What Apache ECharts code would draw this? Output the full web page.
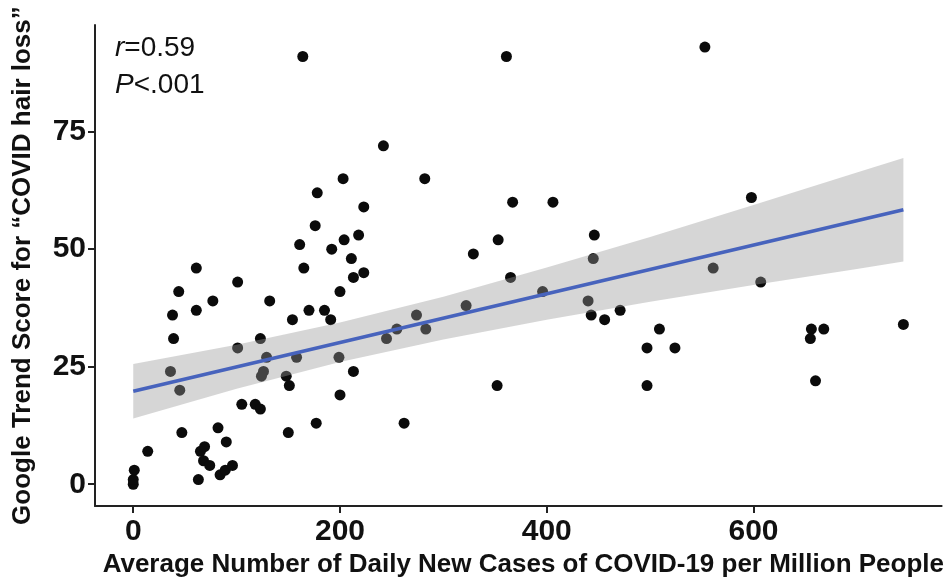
<!DOCTYPE html>
<html>
<head>
<meta charset="utf-8">
<script src="https://cdn.jsdelivr.net/npm/echarts@6/dist/echarts.min.js"></script>
<style>
html,body{margin:0;padding:0;background:#fff;}
#chart{width:947px;height:583px;}
</style>
</head>
<body>
<div id="chart"></div>
<script>
// Scatter data (cases per million, Google trend score)
const casesX = [0,0,1,14,47,36,45,39,38,44, 61,61,77,101,101,63,65,69,68,74, 82,90,84,89,96,105,118,123,123,129,
  126,124,132,148,151,150,154,158,170,165, 161,176,178,203,177,185,191,199,200,200, 192,204,211,218,213,223,223,213,245,164,
  361,242,282,367,406,329,353,446,445,365, 396,255,274,283,322,440,443,456,471,262, 352,509,497,524,497,553,598,561,607,656,
  668,655,745,660];
const trendY = [0,1,3,7,11,24,20,31,36,41, 46,37,39,43,29,1,7,8,5,4, 12,9,2,3,4,17,17,16,31,27,
  24,23,39,23,21,11,35,27,37,46, 51,55,62,65,13,37,35,27,19,41, 50,52,48,53,44,45,59,24,31,91,
  91,72,65,60,60,49,52,53,48,44, 41,33,36,33,38,39,36,35,37,13, 21,33,29,29,21,93,61,46,43,33,
  33,31,34,22];

// Fitted regression line and 95% confidence band
const fitX = [0, 745];
const fitY = [19.8, 58.4];
const bandX = [0, 100, 200, 300, 400, 500, 600, 700, 745];
const bandLo = [14.0, 20.3, 26.0, 30.8, 35.0, 38.8, 42.4, 45.8, 47.4];
const bandHi = [25.6, 29.7, 34.4, 39.9, 46.1, 52.6, 59.4, 66.3, 69.4];

// Tick labels
const xTicks = [0, 200, 400, 600];
const yTicks = [0, 25, 50, 75];

const FONT = "'Liberation Sans', Arial, Helvetica, sans-serif";

const chart = echarts.init(document.getElementById('chart'), null, {renderer: 'canvas'});

const scatterData = casesX.map((x, i) => [x, trendY[i]]);
const bandData = bandX.map((x, i) => [x, bandLo[i], bandHi[i]]);
const fitData = fitX.map((x, i) => [x, fitY[i]]);

chart.setOption({
  animation: false,
  backgroundColor: '#ffffff',
  title: {
    left: 110,
    top: 25,
    text: '{i|r}{n|=0.59}\n{i|P}{n|<.001}',
    textStyle: {
      lineHeight: 37,
      fontWeight: 'normal',
      rich: {
        i: {fontFamily: FONT, fontSize: 28, fontStyle: 'italic', fontWeight: 'normal', color: '#111', lineHeight: 37},
        n: {fontFamily: FONT, fontSize: 28, fontWeight: 'normal', color: '#111', lineHeight: 37}
      }
    }
  },
  grid: {left: 95, right: 4, top: 25, bottom: 72, containLabel: false},
  xAxis: {
    type: 'value',
    min: -37,
    max: 782,
    name: 'Average Number of Daily New Cases of COVID-19 per Million People',
    nameLocation: 'middle',
    nameGap: 39,
    nameTextStyle: {fontFamily: FONT, fontSize: 26, fontWeight: 'bold', color: '#111', padding: [0, 0, 0, 10]},
    axisLine: {show: true, onZero: false, lineStyle: {color: '#222', width: 2}},
    axisTick: {show: true, length: 7, customValues: xTicks, lineStyle: {color: '#222', width: 2}},
    axisLabel: {customValues: xTicks, margin: 11, fontFamily: FONT, fontSize: 30, fontWeight: 'bold', color: '#111'},
    splitLine: {show: false}
  },
  yAxis: {
    type: 'value',
    min: -4.65,
    max: 97.7,
    name: 'Google Trend Score for \u201cCOVID hair loss\u201d',
    nameLocation: 'middle',
    nameGap: 59,
    nameTextStyle: {fontFamily: FONT, fontSize: 26, fontWeight: 'bold', color: '#111'},
    axisLine: {show: true, onZero: false, lineStyle: {color: '#222', width: 2}},
    axisTick: {show: true, length: 7, customValues: yTicks, lineStyle: {color: '#222', width: 2}},
    axisLabel: {customValues: yTicks, margin: 9, fontFamily: FONT, fontSize: 30, fontWeight: 'bold', color: '#111'},
    splitLine: {show: false}
  },
  series: [
    {
      type: 'scatter',
      data: scatterData,
      symbol: 'circle',
      symbolSize: 11,
      itemStyle: {color: '#0b0b0b', opacity: 1},
      z: 2
    },
    {
      type: 'custom',
      data: bandData,
      clip: true,
      z: 3,
      renderItem: function (params, api) {
        if (params.dataIndex !== 0) return null;
        const pts = [];
        for (let i = 0; i < bandData.length; i++) pts.push(api.coord([bandData[i][0], bandData[i][2]]));
        for (let i = bandData.length - 1; i >= 0; i--) pts.push(api.coord([bandData[i][0], bandData[i][1]]));
        return {
          type: 'polygon',
          shape: {points: pts},
          style: {fill: 'rgba(153,153,153,0.4)', stroke: null}
        };
      }
    },
    {
      type: 'line',
      data: fitData,
      symbol: 'none',
      lineStyle: {color: '#4763BD', width: 3.5},
      z: 4
    }
  ]
});
</script>
</body>
</html>
